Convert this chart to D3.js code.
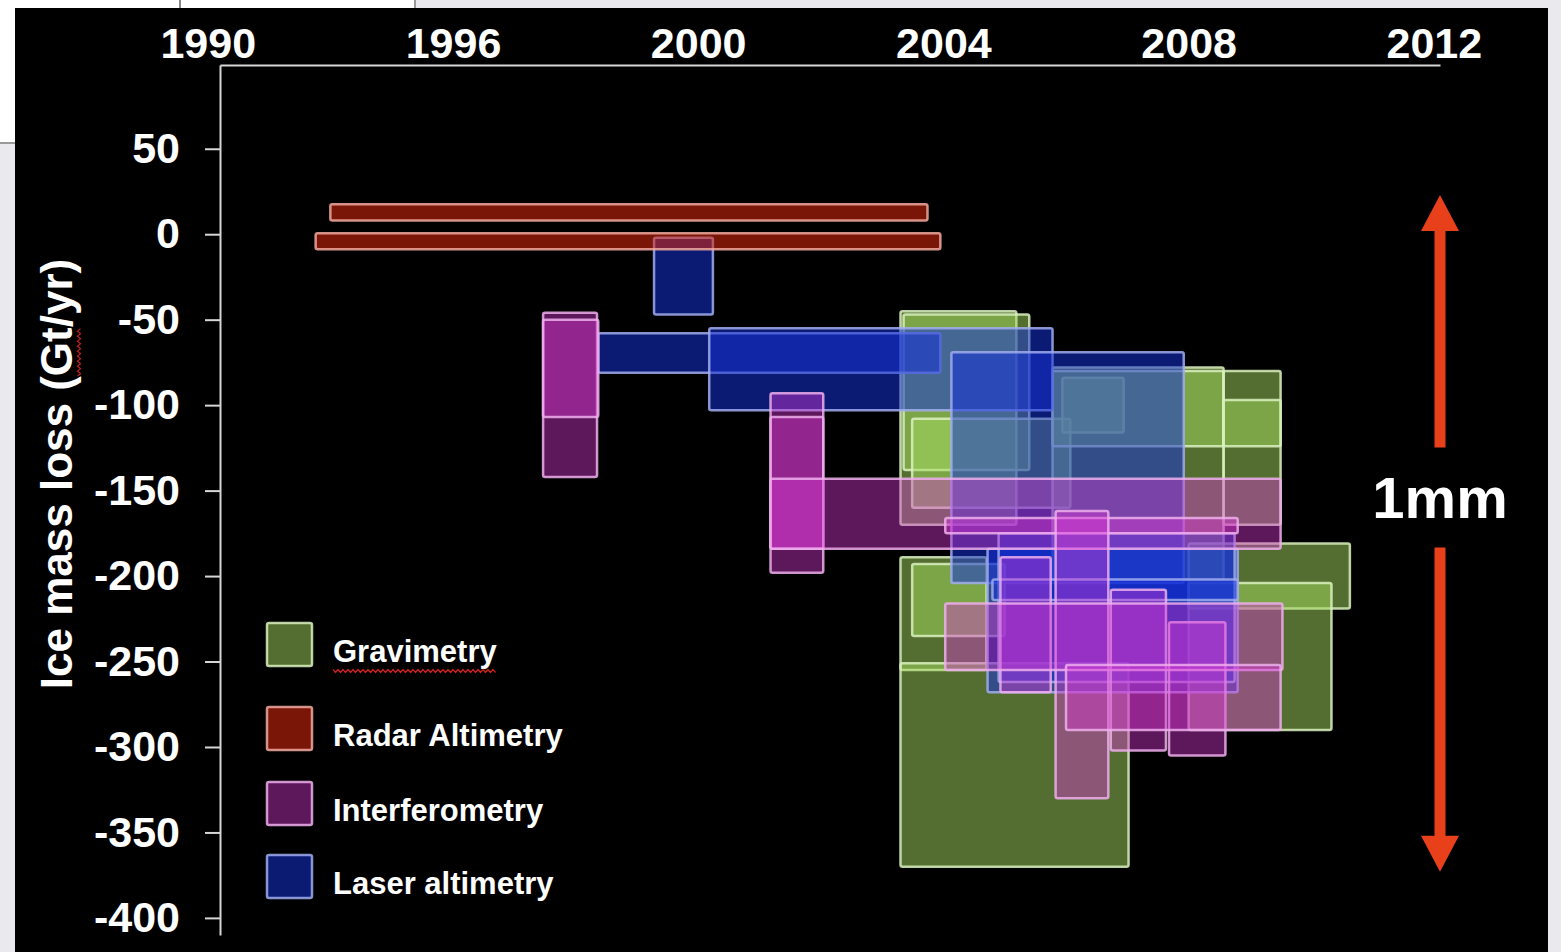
<!DOCTYPE html>
<html>
<head>
<meta charset="utf-8">
<script src="https://cdnjs.cloudflare.com/ajax/libs/d3/7.8.5/d3.min.js"></script>
<style>
html, body { margin: 0; padding: 0; background: #e9e9ee; overflow: hidden; }
svg { display: block; font-family: "Liberation Sans", Arial, sans-serif; font-weight: bold; }
.axis .domain, .axis line { stroke: #d6d6d6; stroke-width: 2; }
.axis text { fill: #fff; font-size: 43px; font-family: "Liberation Sans", Arial, sans-serif; font-weight: bold; }
</style>
</head>
<body>
<div id="chart"></div>
<script>
// tick values / labels (top axis reads "1990" at the 1992 position)
var years = [1992, 1996, 2000, 2004, 2008, 2012];
var yearLabels = ["1990", "1996", "2000", "2004", "2008", "2012"];
var massTicks = [50, 0, -50, -100, -150, -200, -250, -300, -350, -400];

var techniques = ["Gravimetry", "Radar Altimetry", "Interferometry", "Laser altimetry"];
var techColors = ["#a5dc5f", "#de280f", "#d737d2", "#1432d7"];
var techOpacity = [0.5, 0.55, 0.43, 0.53];

// estimates: [start year, end year, upper Gt/yr, lower Gt/yr]
var gravimetryBoxes = [
  [2003.30, 2005.19, -45, -170],
  [2003.35, 2005.40, -47, -138],
  [2003.49, 2006.07, -108, -160],
  [2003.30, 2004.70, -189, -255],
  [2003.49, 2005.00, -193, -235],
  [2003.30, 2007.02, -251, -370],
  [2005.94, 2006.94, -84, -116],
  [2005.78, 2008.57, -78, -202],
  [2005.78, 2008.57, -80, -124],
  [2008.57, 2009.50, -80, -170],
  [2008.57, 2009.50, -97, -124],
  [2008.00, 2010.63, -181, -219],
  [2008.00, 2010.33, -204, -290]
];
var radarBoxes = [
  [1994.00, 2003.74, 17.5, 8],
  [1993.76, 2003.95, 0.6, -8.8]
];
var interferometryBoxes = [
  [1997.47, 1998.35, -46, -142],
  [1997.47, 1998.37, -50, -107],
  [2001.18, 2002.04, -93, -198],
  [2001.18, 2002.04, -107, -184],
  [2001.18, 2009.50, -143, -184],
  [2004.03, 2008.80, -166, -175],
  [2005.83, 2006.69, -162, -330],
  [2004.93, 2005.75, -189, -268],
  [2006.73, 2007.63, -208, -302],
  [2007.68, 2008.60, -227, -305],
  [2004.03, 2009.53, -216, -255],
  [2006.00, 2009.50, -252, -290]
];
var laserBoxes = [
  [1999.28, 2000.24, -2, -47],
  [1998.37, 2003.95, -58, -81],
  [2000.18, 2005.78, -55, -103],
  [2004.13, 2007.92, -69, -204],
  [2004.72, 2008.80, -184, -268],
  [2004.90, 2008.75, -175, -262],
  [2004.80, 2008.80, -202, -214]
];

// 1 mm of sea level arrow (Gt/yr extent) and its label position
var arrowTop = 23, arrowBottom = -373, mmLabelAt = -154;

var svgWidth = 1561, svgHeight = 952;

var svg = d3.select("#chart").append("svg")
  .attr("width", svgWidth)
  .attr("height", svgHeight);

// slide surroundings
svg.append("rect").attr("width", svgWidth).attr("height", svgHeight).attr("fill", "#e9e9ee");
svg.append("rect").attr("width", 415).attr("height", 8).attr("fill", "#fff");
svg.append("rect").attr("width", 15).attr("height", 143).attr("fill", "#fff");
svg.append("line").attr("x1", 180).attr("x2", 180).attr("y1", 0).attr("y2", 8).attr("stroke", "#888").attr("stroke-width", 2);
svg.append("line").attr("x1", 415).attr("x2", 415).attr("y1", 0).attr("y2", 8).attr("stroke", "#999").attr("stroke-width", 2);
svg.append("line").attr("x1", 0).attr("x2", 15).attr("y1", 143).attr("y2", 143).attr("stroke", "#999").attr("stroke-width", 2);

var chart = svg.append("g");
chart.append("rect")
  .attr("x", 15).attr("y", 8)
  .attr("width", 1533).attr("height", svgHeight - 8)
  .attr("fill", "#000");

// scales
var xScale = d3.scaleLinear().domain([1992.2, 2012.1]).range([220, 1440]);
var yScale = d3.scaleLinear().domain([99, -410]).range([65, 935]);

function strokeOf(c) { return d3.interpolateRgb(c, "#ffffff")(0.6); }

// boxes, drawn gravimetry -> laser -> interferometry -> radar
var groups = [gravimetryBoxes, radarBoxes, interferometryBoxes, laserBoxes];
var drawOrder = [0, 3, 2, 1];
var allBoxes = [];
drawOrder.forEach(function(t) {
  groups[t].forEach(function(b) {
    allBoxes.push({ tech: t, x0: b[0], x1: b[1], top: b[2], bottom: b[3] });
  });
});

chart.selectAll(".box")
  .data(allBoxes)
  .enter()
  .append("rect")
  .attr("class", "box")
  .attr("x", d => xScale(d.x0))
  .attr("y", d => yScale(d.top))
  .attr("width", d => xScale(d.x1) - xScale(d.x0))
  .attr("height", d => yScale(d.bottom) - yScale(d.top))
  .attr("rx", 2)
  .attr("fill", d => techColors[d.tech])
  .attr("fill-opacity", d => techOpacity[d.tech])
  .attr("stroke", d => strokeOf(techColors[d.tech]))
  .attr("stroke-opacity", 0.85)
  .attr("stroke-width", 2.5);

// axes
var topAxis = d3.axisTop(xScale)
  .tickValues(years)
  .tickSize(0)
  .tickPadding(7)
  .tickFormat((d, i) => yearLabels[i]);

chart.append("g")
  .attr("class", "axis")
  .attr("transform", "translate(0,65)")
  .call(topAxis);

var leftAxis = d3.axisLeft(yScale)
  .tickValues(massTicks)
  .tickSize(15)
  .tickSizeOuter(0)
  .tickPadding(25)
  .tickFormat(d => String(d));

chart.append("g")
  .attr("class", "axis")
  .attr("transform", "translate(220,0)")
  .call(leftAxis);

// y title
var yTitle = chart.append("text")
  .attr("transform", "translate(72,474) rotate(-90)")
  .attr("text-anchor", "middle")
  .attr("fill", "#fff")
  .attr("font-size", 44)
  .text("Ice mass loss (Gt/yr)");

// spell-check squiggle helper
function squiggle(len) {
  var pts = [];
  for (var i = 0; i <= len; i += 2.5) pts.push([i, (Math.round(i / 2.5) % 2) ? 1.5 : -1.5]);
  return d3.line()(pts);
}

var full = yTitle.node().getComputedTextLength();
var gtStart = yTitle.node().getSubStringLength(0, 15);
var gtLen = yTitle.node().getSubStringLength(15, 2);
chart.append("path")
  .attr("transform", "translate(79," + (474 + full / 2 - gtStart) + ") rotate(-90)")
  .attr("d", squiggle(gtLen))
  .attr("fill", "none")
  .attr("stroke", "#d02020")
  .attr("stroke-width", 1.2);

// legend
var legendTops = [0, 84, 159, 232];
var legend = chart.append("g").attr("transform", "translate(267,623)");
techniques.forEach(function(name, i) {
  var row = legend.append("g").attr("transform", "translate(0," + legendTops[i] + ")");
  row.append("rect")
    .attr("width", 45).attr("height", 43)
    .attr("rx", 2)
    .attr("fill", d3.interpolateRgb("#000", techColors[i])(techOpacity[i]))
    .attr("stroke", strokeOf(techColors[i]))
    .attr("stroke-opacity", 0.85)
    .attr("stroke-width", 2.5);
  var t = row.append("text")
    .attr("x", 66).attr("y", 39)
    .attr("fill", "#fff")
    .attr("font-size", 31)
    .text(name);
  if (i === 0) {
    row.append("path")
      .attr("transform", "translate(66,48)")
      .attr("d", squiggle(t.node().getComputedTextLength()))
      .attr("fill", "none")
      .attr("stroke", "#d02020")
      .attr("stroke-width", 1.2);
  }
});

// 1mm arrow
var ax = xScale(2012.1);
var arrowColor = "#e8401a";
var yTip = yScale(arrowTop), yEnd = yScale(arrowBottom), yLab = yScale(mmLabelAt);
chart.append("line")
  .attr("x1", ax).attr("x2", ax)
  .attr("y1", yTip + 30).attr("y2", yLab - 50)
  .attr("stroke", arrowColor).attr("stroke-width", 11);
chart.append("line")
  .attr("x1", ax).attr("x2", ax)
  .attr("y1", yLab + 50).attr("y2", yEnd - 30)
  .attr("stroke", arrowColor).attr("stroke-width", 11);
chart.append("path")
  .attr("d", "M" + ax + "," + yTip + "L" + (ax + 19) + "," + (yTip + 36) + "L" + (ax - 19) + "," + (yTip + 36) + "Z")
  .attr("fill", arrowColor);
chart.append("path")
  .attr("d", "M" + ax + "," + yEnd + "L" + (ax + 19) + "," + (yEnd - 36) + "L" + (ax - 19) + "," + (yEnd - 36) + "Z")
  .attr("fill", arrowColor);
chart.append("text")
  .attr("x", ax).attr("y", yLab + 21)
  .attr("text-anchor", "middle")
  .attr("fill", "#fff")
  .attr("font-size", 58)
  .text("1mm");
</script>
</body>
</html>
